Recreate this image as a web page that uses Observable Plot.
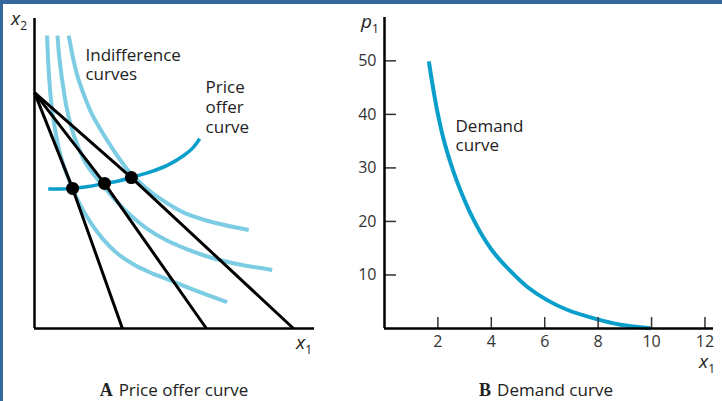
<!DOCTYPE html>
<html><head><meta charset="utf-8">
<script src="https://cdn.jsdelivr.net/npm/d3@7"></script>
<script src="https://cdn.jsdelivr.net/npm/@observablehq/plot@0.6"></script>
<style>
html,body{margin:0;padding:0;background:#fff;}
#wrap{position:relative;width:722px;height:401px;overflow:hidden;font-family:"Open Sans",sans-serif;color:#222;}
.bt{position:absolute;left:0;top:0;width:722px;height:4px;background:#34679a;z-index:5;}
.bl{position:absolute;left:0;top:0;width:3px;height:401px;background:#34679a;z-index:5;}
.lbl{position:absolute;white-space:nowrap;line-height:1;}
.ax{font-size:19px;}
.ax i{font-style:italic;}
.ax sub{font-size:12px;vertical-align:-5px;font-style:normal;}
.cap{position:absolute;font-size:17px;text-align:center;line-height:1;white-space:nowrap;}
.cap b{font-family:"Liberation Serif",serif;font-weight:bold;font-size:18px;margin-right:6px;}
#left,#right{position:absolute;top:0;}
#left{left:0;} #right{left:340px;}
#right svg g[aria-label*="tick label"], #right svg g[aria-label*="tick label"] text{font-size:16px !important;}
</style></head>
<body>
<div id="wrap">
  <div id="left"></div>
  <div id="right"></div>
  <div class="bt"></div><div class="bl"></div>
  <div class="lbl ax" style="left:11px;top:9px;"><i>x</i><sub>2</sub></div>
  <div class="lbl ax" style="left:296px;top:333px;"><i>x</i><sub>1</sub></div>
  <div class="lbl ax" style="left:361px;top:12px;"><i>p</i><sub>1</sub></div>
  <div class="lbl ax" style="left:699px;top:352px;"><i>x</i><sub>1</sub></div>
  <div class="cap" style="left:74px;width:200px;top:381px;"><b>A</b>Price offer curve</div>
  <div class="cap" style="left:446px;width:200px;top:381px;"><b>B</b>Demand curve</div>
</div>
<script>
// ---- Panel A data (x1, x2 units) ----
const indiffA = [[1.22,9.45],[1.29,9.13],[1.35,8.84],[1.52,8.19],[1.76,7.55],[2.06,6.90],[2.48,6.24],[2.95,5.58],[3.46,4.97],[3.96,4.55],[4.50,4.18],[5.33,3.74],[6.40,3.42],[7.65,3.18]];
const indiffB = [[0.82,9.45],[0.89,8.71],[1.00,7.94],[1.14,7.16],[1.32,6.48],[1.54,5.90],[1.82,5.35],[2.14,4.94],[2.50,4.55],[2.93,4.10],[3.43,3.65],[4.00,3.23],[4.68,2.86],[5.46,2.55],[6.29,2.29],[7.29,2.07],[8.49,1.89]];
const indiffC = [[0.45,9.45],[0.50,8.42],[0.59,7.36],[0.73,6.45],[0.91,5.65],[1.13,5.03],[1.36,4.52],[1.64,3.97],[2.00,3.42],[2.43,2.90],[2.96,2.42],[3.61,2.03],[4.25,1.76],[4.93,1.52],[5.86,1.19],[6.88,0.85]];
const priceOffer = [[0.49,4.50],[0.93,4.50],[1.36,4.52],[1.93,4.58],[2.50,4.68],[3.00,4.76],[3.46,4.87],[4.14,5.05],[4.74,5.26],[5.33,5.58],[5.64,5.81],[5.90,6.12]];
const optima = [[1.36,4.52],[2.50,4.68],[3.46,4.87]];
const budgetIntercept = 7.61;
const budgetEnds = [3.14, 6.14, 9.25];
const annotA = ["Indifference\ncurves", "Price\noffer\ncurve"];

// ---- Panel B data ----
const demandX = [1.66,1.80,1.98,2.22,2.47,2.72,2.97,3.22,3.60,4.09,4.72,5.34,6.09,6.84,7.84,8.84,9.96];
const demandP = [49.9,45.5,40.5,35.2,31.0,27.4,24.3,21.5,17.9,14.2,10.7,7.8,5.3,3.5,1.9,0.7,0.04];
const xTicks = [2,4,6,8,10,12];
const yTicks = [10,20,30,40,50];
const annotB = "Demand\ncurve";

const lightBlue = "#7ccde3";
const deepBlue = "#0a9fcb";

const indiff = [indiffA, indiffB, indiffC].flatMap((c,k)=>c.map(([x,y])=>({x,y,k})));
const budget = budgetEnds.flatMap((e,k)=>[
  {x:0,y:budgetIntercept,k},{x:optima[k][0],y:optima[k][1],k},{x:e,y:0,k}]);

const left = Plot.plot({
  width:340, height:401, marginLeft:34, marginRight:26, marginTop:18, marginBottom:73,
  x:{domain:[0,10], axis:null}, y:{domain:[0,10], axis:null},
  style:{fontFamily:"Open Sans", fontSize:"17px", color:"#222", background:"transparent"},
  marks:[
    Plot.line(indiff,{x:"x",y:"y",z:"k",stroke:lightBlue,strokeWidth:4,curve:"catmull-rom",strokeLinecap:"butt"}),
    Plot.line(budget,{x:"x",y:"y",z:"k",stroke:"#000",strokeWidth:3,strokeLinecap:"butt"}),
    Plot.line(priceOffer,{x:d=>d[0],y:d=>d[1],stroke:deepBlue,strokeWidth:3.5,curve:"catmull-rom",strokeLinecap:"butt"}),
    Plot.dot(optima,{x:d=>d[0],y:d=>d[1],r:6.5,fill:"#000"}),
    Plot.ruleX([0],{stroke:"#000",strokeWidth:2.5}),
    Plot.ruleY([0],{stroke:"#000",strokeWidth:2.5}),
    Plot.text([annotA[0]],{x:1.82,y:9.06,text:d=>d,textAnchor:"start",lineAnchor:"top",lineHeight:1.12,fill:"#222"}),
    Plot.text([annotA[1]],{x:6.11,y:8.06,text:d=>d,textAnchor:"start",lineAnchor:"top",lineHeight:1.18,fill:"#222"})
  ]
});
document.getElementById("left").appendChild(left);

const demand = demandX.map((x,i)=>({x, p:demandP[i]}));
const right = Plot.plot({
  width:382, height:401, marginLeft:44, marginRight:9, marginTop:17, marginBottom:73,
  x:{domain:[0,12.32]}, y:{domain:[0,58.1]},
  style:{fontFamily:"Open Sans", fontSize:"16px", color:"#333", background:"transparent"},
  marks:[
    Plot.line(demand,{x:"x",y:"p",stroke:deepBlue,strokeWidth:4,curve:"catmull-rom",strokeLinecap:"butt"}),
    Plot.tickY(yTicks,{y:d=>d,stroke:"#333",strokeWidth:1.5,insetRight:317}),
    Plot.tickX(xTicks,{x:d=>d,stroke:"#333",strokeWidth:1.5,insetTop:300}),
    Plot.axisY({ticks:yTicks,tickSize:0,tickPadding:8,label:null,fontSize:16}),
    Plot.axisX({ticks:xTicks,tickSize:0,tickPadding:7,label:null,fontSize:16}),
    Plot.ruleX([0],{stroke:"#000",strokeWidth:2.5}),
    Plot.ruleY([0],{stroke:"#000",strokeWidth:2.5}),
    Plot.text([annotB],{x:2.66,y:39.25,text:d=>d,textAnchor:"start",lineAnchor:"top",lineHeight:1.12,fontSize:17,fill:"#222"})
  ]
});
document.getElementById("right").appendChild(right);
</script>
</body></html>
